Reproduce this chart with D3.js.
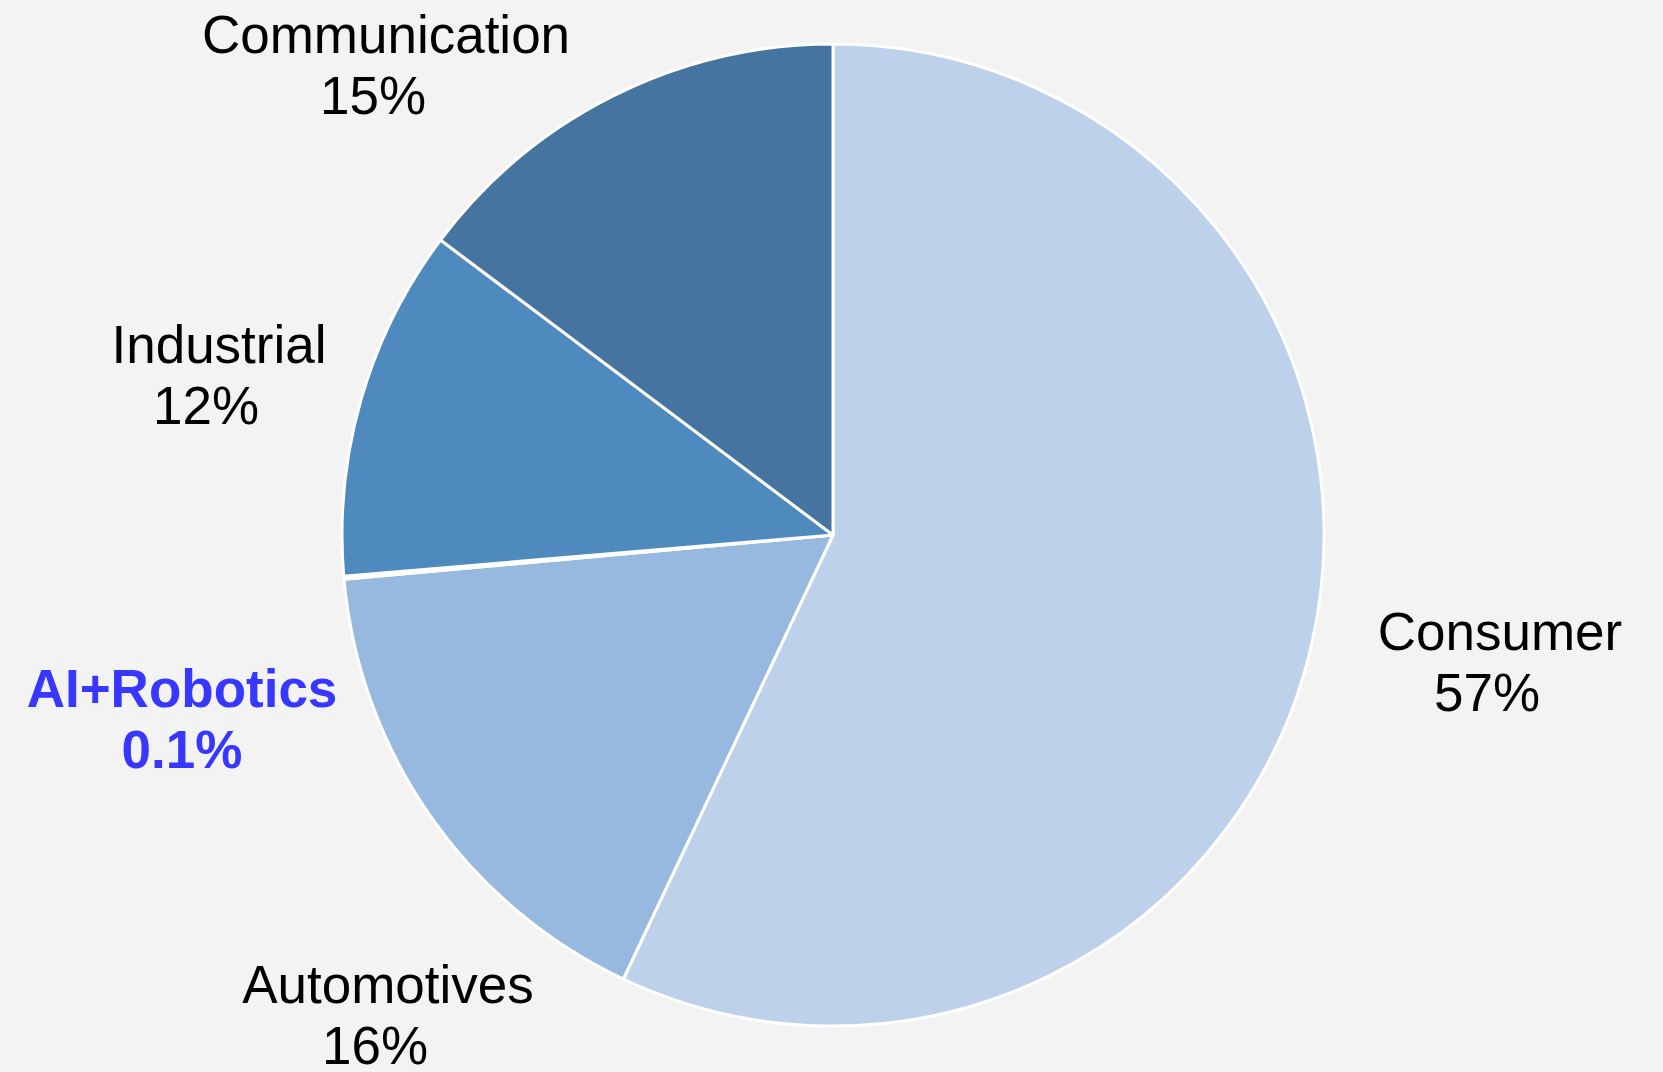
<!DOCTYPE html>
<html>
<head>
<meta charset="utf-8">
<script src="https://cdn.jsdelivr.net/npm/d3@7/dist/d3.min.js"></script>
<style>
  html, body { margin: 0; padding: 0; background: #f2f3f2; }
  svg { display: block; }
  text { font-family: "Liberation Sans", Arial, sans-serif; font-size: 53px; }
</style>
</head>
<body>
<div id="chart"></div>
<script>
const W = 1663;
const H = 1072;

// slice data, clockwise from 12 o'clock
const categories = ["Consumer", "Automotives", "AI+Robotics", "Industrial", "Communication"];
const shares = [57.05, 16.55, 0.1, 11.6, 14.75];
const shareLabels = ["57%", "16%", "0.1%", "12%", "15%"];
const highlighted = ["AI+Robotics"];

const colors = ["#bdd1ea", "#98b9df", "#6fa0d6", "#4f8abe", "#44749f"];
// label anchors (x centre, first-line baseline)
const labelPos = [[1500, 650], [388, 1003], [182, 707], [219, 363], [386, 53]];

const cx = 833, cy = 535, radius = 491;

const svg = d3.select("#chart")
  .append("svg")
  .attr("width", W)
  .attr("height", H);

svg.append("rect")
  .attr("width", W)
  .attr("height", H)
  .attr("fill", "#f2f3f2");

const pie = d3.pie().sort(null).value(d => d.value);
const arc = d3.arc().innerRadius(0).outerRadius(radius);

const data = categories.map((c, i) => ({ name: c, value: shares[i], label: shareLabels[i], color: colors[i] }));

const g = svg.append("g").attr("transform", `translate(${cx},${cy})`);

g.selectAll("path")
  .data(pie(data))
  .enter()
  .append("path")
  .attr("d", arc)
  .attr("fill", d => d.data.color)
  .attr("stroke", "#ffffff")
  .attr("stroke-width", 3)
  .attr("stroke-linejoin", "round");

const labels = svg.selectAll("text.lbl")
  .data(data)
  .enter()
  .append("text")
  .attr("class", "lbl")
  .attr("text-anchor", "middle")
  .attr("fill", d => highlighted.includes(d.name) ? "#3737ff" : "#000000")
  .attr("font-weight", d => highlighted.includes(d.name) ? "bold" : "normal");

labels.append("tspan")
  .attr("x", (d, i) => labelPos[i][0])
  .attr("y", (d, i) => labelPos[i][1])
  .text(d => d.name);

labels.append("tspan")
  .attr("x", (d, i) => labelPos[i][0] + (highlighted.includes(d.name) ? 0 : -13))
  .attr("y", (d, i) => labelPos[i][1] + 61)
  .text(d => d.label);
</script>
</body>
</html>
